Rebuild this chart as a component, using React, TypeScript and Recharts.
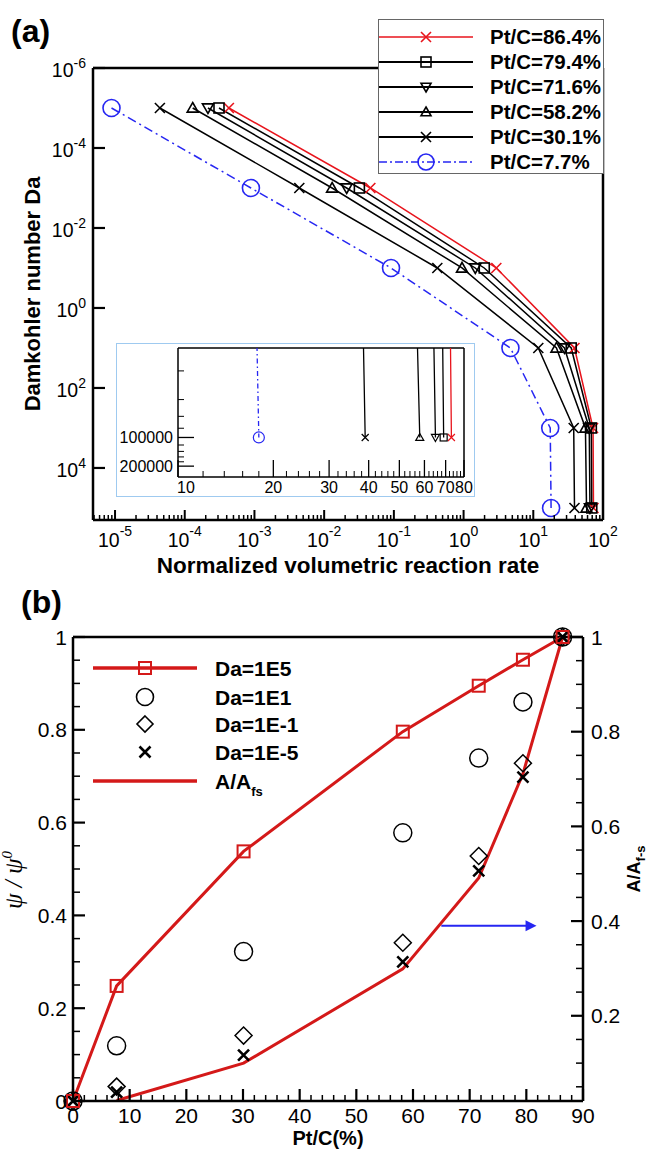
import React from 'react';
import { LineChart, Line, XAxis, YAxis, ReferenceLine, ReferenceDot, Legend } from 'recharts';

// ---- panel (a): Damkohler number vs normalized volumetric reaction rate ----
const daLevels = [1e-5, 1e-3, 1e-1, 1e1, 1e3, 1e5];
const rate864 = [4.3e-4, 0.046, 2.95, 39, 72, 73];
const rate794 = [3.1e-4, 0.032, 1.98, 35, 68, 69];
const rate716 = [2.15e-4, 0.021, 1.47, 28, 63.5, 65];
const rate582 = [1.3e-4, 0.013, 0.95, 21.5, 56, 58];
const rate301 = [4.4e-5, 0.0044, 0.42, 11.8, 38, 39];
const rate77 = [8.9e-6, 8.9e-4, 0.091, 4.7, 17.5, 18];

const yTicksA = [1e-6, 1e-4, 1e-2, 1, 1e2, 1e4];
const insetYTicks = [2e4, 4e4, 6e4, 8e4, 1e5, 1.2e5, 1.4e5, 1.6e5, 1.8e5, 2e5];
const insetYLabels = [1e5, 2e5];

// ---- panel (b): psi/psi0 and A/Afs vs Pt/C ----
const ptc = [0, 7.7, 30.1, 58.2, 71.6, 79.4, 86.4];
const psiDa1e5 = [0, 0.248, 0.538, 0.796, 0.895, 0.951, 1];
const psiDa1e1 = [0, 0.119, 0.322, 0.578, 0.739, 0.86, 1];
const psiDa1em1 = [0, 0.031, 0.141, 0.341, 0.528, 0.728, 1];
const psiDa1em5 = [0, 0.019, 0.099, 0.3, 0.496, 0.698, 1];
const areaPtc = [7.7, 30.1, 58.2, 71.6, 79.4, 86.4];
const areaRatio = [0.021, 0.1, 0.299, 0.491, 0.711, 1];
const arrow = { from: 65, to: 81.8, level: 0.39 };

const RED_A = '#e8141c';
const BLUE = '#2626f2';
const RED_B = '#d41919';

const seriesA = [
  { name: 'Pt/C=86.4%', rates: rate864, color: RED_A, kind: 'x' },
  { name: 'Pt/C=79.4%', rates: rate794, color: '#000', kind: 'square' },
  { name: 'Pt/C=71.6%', rates: rate716, color: '#000', kind: 'dtri' },
  { name: 'Pt/C=58.2%', rates: rate582, color: '#000', kind: 'tri' },
  { name: 'Pt/C=30.1%', rates: rate301, color: '#000', kind: 'x' },
  { name: 'Pt/C=7.7%', rates: rate77, color: BLUE, kind: 'circle', dashed: true },
];
const dataA = seriesA.map((s) => daLevels.map((da, i) => ({ da, rate: s.rates[i] })));

const toPoints = (xs: number[], ys: number[]) => xs.map((p, i) => ({ p, v: ys[i] }));
const dataB1e5 = toPoints(ptc, psiDa1e5);
const dataB1e1 = toPoints(ptc, psiDa1e1);
const dataB1em1 = toPoints(ptc, psiDa1em1);
const dataB1em5 = toPoints(ptc, psiDa1em5);
const dataArea = toPoints(areaPtc, areaRatio);

// tick positions
const xTicksA: number[] = [];
for (let e = -6; e <= 1; e++) {
  for (let m = 1; m <= 9; m++) {
    const v = m * Math.pow(10, e);
    if (v >= 4.9e-6) xTicksA.push(v);
  }
}
xTicksA.push(100);
const insetXTicks = Array.from({ length: 36 }, (_, i) => 10 + 2 * i);
const xTicksB = Array.from({ length: 46 }, (_, i) => 2 * i);
const yTicksBLeft = Array.from({ length: 21 }, (_, i) => (i * 5) / 100);
const yTicksBRight = yTicksBLeft.slice(1);

const isDecade = (v: number) => {
  const e = Math.log10(v);
  return Math.abs(e - Math.round(e)) < 1e-6;
};

const Marker = ({ cx, cy, kind, color, size, sw = 1.5 }: any) => {
  if (cx == null || cy == null || isNaN(cx) || isNaN(cy)) return null;
  const h = size / 2;
  const st = { fill: 'none', stroke: color, strokeWidth: sw };
  if (kind === 'x')
    return <path d={`M${cx - h},${cy - h}L${cx + h},${cy + h}M${cx - h},${cy + h}L${cx + h},${cy - h}`} {...st} />;
  if (kind === 'square') return <rect x={cx - h} y={cy - h} width={size} height={size} {...st} />;
  if (kind === 'tri')
    return <path d={`M${cx},${cy - h}L${cx + h},${cy + h * 0.75}L${cx - h},${cy + h * 0.75}Z`} {...st} />;
  if (kind === 'dtri')
    return <path d={`M${cx},${cy + h}L${cx + h},${cy - h * 0.75}L${cx - h},${cy - h * 0.75}Z`} {...st} />;
  if (kind === 'diamond')
    return <path d={`M${cx},${cy - h}L${cx + h},${cy}L${cx},${cy + h}L${cx - h},${cy}Z`} {...st} />;
  return <circle cx={cx} cy={cy} r={h} {...st} />;
};

const sizeA: Record<string, number> = { x: 10, square: 10, tri: 11, dtri: 11, circle: 17 };
const sizeInset: Record<string, number> = { x: 7, square: 7, tri: 8, dtri: 8, circle: 11 };

// ---- ticks ----
const TickXA = ({ x, y, payload }: any) => {
  const v = payload.value;
  if (!isDecade(v)) return <line x1={x} x2={x} y1={y} y2={y - 5} stroke="#000" strokeWidth={1.5} />;
  return (
    <g>
      <line x1={x} x2={x} y1={y} y2={y - 10} stroke="#000" strokeWidth={2} />
      <text x={x} y={y + 27} textAnchor="middle" fontSize={19.5} fill="#000">
        10<tspan dy={-11} fontSize={14}>{Math.round(Math.log10(v))}</tspan>
      </text>
    </g>
  );
};

const TickYA = ({ x, y, payload }: any) => (
  <g>
    <line x1={x} x2={x + 12} y1={y} y2={y} stroke="#000" strokeWidth={2.2} />
    <text x={x - 7} y={y + 9} textAnchor="end" fontSize={19.5} fill="#000">
      10<tspan dy={-9} fontSize={14}>{Math.round(Math.log10(payload.value))}</tspan>
    </text>
  </g>
);

const TickXInset = ({ x, y, payload }: any) => {
  const v = payload.value;
  if (v % 10 !== 0) return <line x1={x} x2={x} y1={y} y2={y - 6} stroke="#000" strokeWidth={1} />;
  return (
    <g>
      <line x1={x} x2={x} y1={y} y2={y - 17} stroke="#000" strokeWidth={1.3} />
      <text x={v === 10 ? x - 1 : x} y={y + 16} textAnchor={v === 10 ? 'start' : 'middle'} fontSize={16} fill="#000">
        {v}
      </text>
    </g>
  );
};

const TickYInset = ({ x, y, payload }: any) => {
  const v = payload.value;
  if (!insetYLabels.includes(v)) return <line x1={x} x2={x + 6} y1={y} y2={y} stroke="#000" strokeWidth={1} />;
  return (
    <g>
      <line x1={x} x2={x + 16} y1={y} y2={y} stroke="#000" strokeWidth={1.3} />
      <text x={x - 5} y={y + 6} textAnchor="end" fontSize={16} fill="#000">
        {v}
      </text>
    </g>
  );
};

const fmtB = (v: number) => (v === 0 ? '0' : v === 1 ? '1' : String(v));
const majorB = (v: number) => Math.round(v * 100) % 20 === 0;

const TickXB = ({ x, y, payload }: any) => {
  const v = payload.value;
  if (v % 10 !== 0) return <line x1={x} x2={x} y1={y} y2={y - 6} stroke="#000" strokeWidth={1.5} />;
  return (
    <g>
      <line x1={x} x2={x} y1={y} y2={y - 12} stroke="#000" strokeWidth={2.2} />
      <text x={x} y={y + 22} textAnchor="middle" fontSize={21} fill="#000">
        {v}
      </text>
    </g>
  );
};

const TickYBLeft = ({ x, y, payload }: any) => {
  const v = payload.value;
  if (!majorB(v)) return <line x1={x} x2={x + 7} y1={y} y2={y} stroke="#000" strokeWidth={1.5} />;
  return (
    <g>
      <line x1={x} x2={x + 12} y1={y} y2={y} stroke="#000" strokeWidth={2.2} />
      <text x={x - 6} y={y + 7.5} textAnchor="end" fontSize={21} fill="#000">
        {fmtB(v)}
      </text>
    </g>
  );
};

const TickYBRight = ({ x, y, payload }: any) => {
  const v = payload.value;
  if (!majorB(v)) return <line x1={x} x2={x - 7} y1={y} y2={y} stroke="#000" strokeWidth={1.5} />;
  return (
    <g>
      <line x1={x} x2={x - 12} y1={y} y2={y} stroke="#000" strokeWidth={2.2} />
      <text x={x + 8} y={y + 7.5} textAnchor="start" fontSize={21} fill="#000">
        {fmtB(v)}
      </text>
    </g>
  );
};

// ---- legends ----
const LegendA = () => (
  <svg width={224} height={153} style={{ display: 'block', overflow: 'visible' }}>
    {seriesA.map((s, i) => {
      const y = 17 + i * 25;
      return (
        <g key={s.name}>
          <line x1={0} x2={94} y1={y} y2={y} stroke={s.color} strokeWidth={s.color === '#000' ? 2 : 1.6}
            strokeDasharray={s.dashed ? '8 3 2 3' : undefined} />
          <Marker cx={47} cy={y} kind={s.kind} color={s.color} size={s.kind === 'circle' ? 16 : 10} sw={1.6} />
          <text x={111} y={y + 7} fontSize={20.5} fontWeight="bold" fill="#000">{s.name}</text>
        </g>
      );
    })}
  </svg>
);

const legendRowsB = [18, 47, 74, 102, 131];
const LegendB = () => (
  <svg width={260} height={150} style={{ display: 'block', overflow: 'visible' }}>
    <line x1={8} x2={112} y1={legendRowsB[0]} y2={legendRowsB[0]} stroke={RED_B} strokeWidth={3.5} />
    <Marker cx={60} cy={legendRowsB[0]} kind="square" color={RED_B} size={12} sw={2} />
    <Marker cx={60} cy={legendRowsB[1]} kind="circle" color="#000" size={17} sw={1.6} />
    <Marker cx={60} cy={legendRowsB[2]} kind="diamond" color="#000" size={16} sw={1.6} />
    <Marker cx={60} cy={legendRowsB[3]} kind="x" color="#000" size={11} sw={2.6} />
    <line x1={8} x2={112} y1={legendRowsB[4]} y2={legendRowsB[4]} stroke={RED_B} strokeWidth={3.5} />
    {['Da=1E5', 'Da=1E1', 'Da=1E-1', 'Da=1E-5'].map((t, i) => (
      <text key={t} x={130} y={legendRowsB[i] + 7.5} fontSize={21} fontWeight="bold" fill="#000">{t}</text>
    ))}
    <text x={130} y={legendRowsB[4] + 7.5} fontSize={21} fontWeight="bold" fill="#000">
      A/A<tspan dy={7} fontSize={13}>fs</tspan>
    </text>
  </svg>
);

const dotOf = (kind: string, color: string, size: number, sw = 1.5) => (p: any) => (
  <Marker key={`m-${p.index}`} cx={p.cx} cy={p.cy} kind={kind} color={color} size={size} sw={sw} />
);

const ArrowHead = (p: any) => (
  <path d={`M${p.cx},${p.cy}L${p.cx - 11},${p.cy - 5.5}L${p.cx - 11},${p.cy + 5.5}Z`} fill={BLUE} />
);

const PanelA = () => (
  <LineChart width={647} height={600} margin={{ top: 68, right: 44, left: 33, bottom: 40 }}>
    <XAxis dataKey="rate" type="number" scale="log" domain={[4.83e-6, 100]} allowDataOverflow ticks={xTicksA}
      interval={0} tick={(p: any) => <TickXA {...p} />} tickLine={false} tickSize={0} tickMargin={0} height={40}
      axisLine={{ stroke: '#000', strokeWidth: 2.5 }}
      label={{
        content: (p: any) => (
          <text x={p.viewBox.x + p.viewBox.width / 2} y={p.viewBox.y + 53} textAnchor="middle" fontSize={22.5}
            fontWeight="bold" fill="#000">Normalized volumetric reaction rate</text>
        ),
      }} />
    <YAxis type="number" scale="log" domain={[1e-6, 2e5]} reversed allowDataOverflow ticks={yTicksA} interval={0}
      tick={(p: any) => <TickYA {...p} />} tickLine={false} tickSize={0} tickMargin={0} width={60}
      axisLine={{ stroke: '#000', strokeWidth: 2.5 }}
      label={{
        content: (p: any) => {
          const x = p.viewBox.x + 7;
          const y = p.viewBox.y + p.viewBox.height / 2;
          return (
            <text x={x} y={y} transform={`rotate(-90 ${x} ${y})`} textAnchor="middle" fontSize={22}
              fontWeight="bold" fill="#000">Damkohler number Da</text>
          );
        },
      }} />
    <ReferenceLine y={1e-6} stroke="#000" strokeWidth={2.5} />
    <ReferenceLine x={100} stroke="#000" strokeWidth={2.5} />
    {seriesA.map((s, k) => (
      <Line key={s.name} data={dataA[k]} dataKey="da" stroke={s.color} strokeWidth={1.5}
        strokeDasharray={s.dashed ? '9 4 2 4' : undefined} dot={dotOf(s.kind, s.color, sizeA[s.kind], 1.6)}
        activeDot={false} isAnimationActive={false} />
    ))}
    <Legend content={() => <LegendA />} layout="horizontal" align="center" verticalAlign="middle"
      wrapperStyle={{ left: 378, top: 19, width: 226, height: 155, border: '1px solid #666', background: '#fff',
        boxSizing: 'border-box', overflow: 'visible' }} />
  </LineChart>
);

const Inset = () => (
  <LineChart width={357} height={152} margin={{ top: 4, right: 10, left: 11, bottom: 4 }}>
    <XAxis dataKey="rate" type="number" scale="log" domain={[10, 80]} allowDataOverflow ticks={insetXTicks}
      interval={0} tick={(p: any) => <TickXInset {...p} />} tickLine={false} tickSize={0} tickMargin={0} height={15}
      axisLine={{ stroke: '#000', strokeWidth: 1.5 }} />
    <YAxis type="number" scale="log" domain={[1.15e4, 2.6e5]} reversed allowDataOverflow ticks={insetYTicks}
      interval={0} tick={(p: any) => <TickYInset {...p} />} tickLine={false} tickSize={0} tickMargin={0} width={50}
      axisLine={{ stroke: '#000', strokeWidth: 1.5 }} />
    <ReferenceLine y={1.15e4} stroke="#000" strokeWidth={1.5} />
    <ReferenceLine x={80} stroke="#000" strokeWidth={1.5} />
    {seriesA.map((s, k) => (
      <Line key={s.name} data={dataA[k]} dataKey="da" stroke={s.color} strokeWidth={1.3}
        strokeDasharray={s.dashed ? '5 3 1.5 3' : undefined}
        dot={(p: any) =>
          p.payload && p.payload.da === 1e5 ? (
            <Marker key={`i-${p.index}`} cx={p.cx} cy={p.cy} kind={s.kind} color={s.color} size={sizeInset[s.kind]} sw={1.2} />
          ) : (
            <g key={`i-${p.index}`} />
          )
        }
        activeDot={false} isAnimationActive={false} />
    ))}
  </LineChart>
);

const PanelB = () => (
  <LineChart width={647} height={551} margin={{ top: 37, right: 14, left: 23, bottom: 20 }}>
    <XAxis dataKey="p" type="number" domain={[0, 90]} ticks={xTicksB} interval={0} tick={(p: any) => <TickXB {...p} />}
      tickLine={false} tickSize={0} tickMargin={0} height={30} axisLine={{ stroke: '#000', strokeWidth: 2.5 }}
      label={{
        content: (p: any) => (
          <text x={p.viewBox.x + p.viewBox.width / 2} y={p.viewBox.y + 44} textAnchor="middle" fontSize={20}
            fontWeight="bold" fill="#000">Pt/C(%)</text>
        ),
      }} />
    <YAxis yAxisId="left" type="number" domain={[0, 1]} ticks={yTicksBLeft} interval={0}
      tick={(p: any) => <TickYBLeft {...p} />} tickLine={false} tickSize={0} tickMargin={0} width={50}
      axisLine={{ stroke: '#000', strokeWidth: 2.5 }}
      label={{
        content: (p: any) => {
          const x = p.viewBox.x - 1;
          const y = p.viewBox.y + p.viewBox.height / 2 + 11;
          return (
            <text x={x} y={y} transform={`rotate(-90 ${x} ${y})`} textAnchor="middle" fontSize={25}
              fontStyle="italic" fontFamily='"Liberation Serif", "DejaVu Serif", serif' fill="#000">
              ψ / ψ<tspan dy={-10} fontSize={15}>0</tspan>
            </text>
          );
        },
      }} />
    <YAxis yAxisId="right" orientation="right" type="number" domain={[0.02, 1]} ticks={yTicksBRight} interval={0}
      tick={(p: any) => <TickYBRight {...p} />} tickLine={false} tickSize={0} tickMargin={0} width={50}
      axisLine={{ stroke: '#000', strokeWidth: 2.5 }}
      label={{
        content: (p: any) => {
          const x = p.viewBox.x + 57;
          const y = p.viewBox.y + p.viewBox.height / 2;
          return (
            <text x={x} y={y} transform={`rotate(-90 ${x} ${y})`} textAnchor="middle" fontSize={18}
              fontWeight="bold" fill="#000">
              A/A<tspan dy={5} fontSize={13}>f-s</tspan>
            </text>
          );
        },
      }} />
    <ReferenceLine yAxisId="left" y={1} stroke="#000" strokeWidth={2.5} />
    <ReferenceLine yAxisId="right" segment={[{ x: arrow.from, y: arrow.level }, { x: arrow.to - 1, y: arrow.level }]}
      stroke={BLUE} strokeWidth={2} />
    <ReferenceDot yAxisId="right" x={arrow.to} y={arrow.level} shape={ArrowHead} />
    <Line yAxisId="right" data={dataArea} dataKey="v" stroke={RED_B} strokeWidth={3} dot={false} activeDot={false}
      isAnimationActive={false} />
    <Line yAxisId="left" data={dataB1e1} dataKey="v" stroke="none" dot={dotOf('circle', '#000', 18, 1.5)}
      activeDot={false} isAnimationActive={false} />
    <Line yAxisId="left" data={dataB1em1} dataKey="v" stroke="none" dot={dotOf('diamond', '#000', 17, 1.5)}
      activeDot={false} isAnimationActive={false} />
    <Line yAxisId="left" data={dataB1em5} dataKey="v" stroke="none" dot={dotOf('x', '#000', 11, 2.6)}
      activeDot={false} isAnimationActive={false} />
    <Line yAxisId="left" data={dataB1e5} dataKey="v" stroke={RED_B} strokeWidth={3} dot={dotOf('square', RED_B, 12, 2)}
      activeDot={false} isAnimationActive={false} />
    <Legend content={() => <LegendB />} layout="horizontal" align="center" verticalAlign="middle"
      wrapperStyle={{ left: 85, top: 50, width: 260, height: 150 }} />
  </LineChart>
);

export default function App() {
  return (
    <div style={{ position: 'absolute', left: 0, top: 0, width: 647, height: 1151, background: '#fff',
      fontFamily: 'Arial, "Liberation Sans", Helvetica, sans-serif', overflow: 'hidden' }}>
      <div style={{ position: 'absolute', left: 0, top: 0 }}><PanelA /></div>
      <div style={{ position: 'absolute', left: 116, top: 343, width: 359, height: 154, border: '1px solid #9fcaf0',
        background: '#fff', boxSizing: 'border-box' }}><Inset /></div>
      <div style={{ position: 'absolute', left: 0, top: 600 }}><PanelB /></div>
      <svg width={647} height={1151} style={{ position: 'absolute', left: 0, top: 0, pointerEvents: 'none' }}>
        <text x={11} y={42} fontSize={32} fontWeight="bold" fill="#000">(a)</text>
        <text x={21} y={613} fontSize={32} fontWeight="bold" fill="#000">(b)</text>
      </svg>
    </div>
  );
}
